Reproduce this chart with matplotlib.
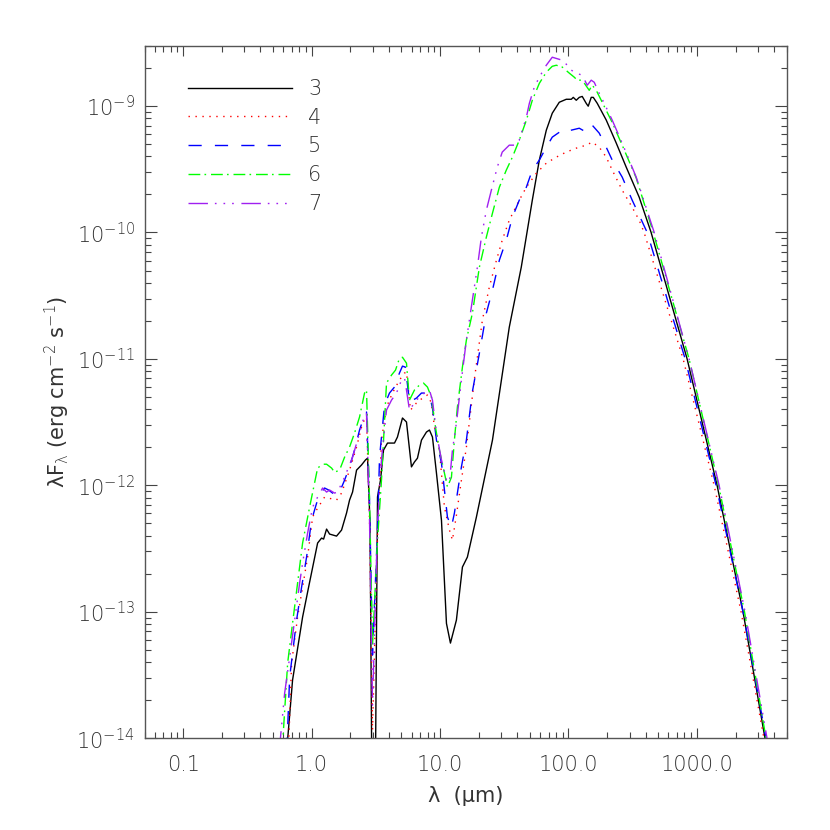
"""
plots the model SEDs (lambda F_lambda against wavelength) for runs 3 to 7
"""

import matplotlib
matplotlib.use("Agg")
import matplotlib.pyplot as plt
from matplotlib.ticker import FixedLocator, LogLocator, NullFormatter


# wavelength in micron, flux in erg cm^-2 s^-1
lam_3 = [0.64, 0.711, 0.851, 0.948, 1.114, 1.196, 1.24, 1.308, 1.38, 1.564, 1.711, 1.871, 1.975,
         2.084, 2.239, 2.448, 2.63, 2.727, 2.85, 2.98, 3.1, 3.26, 3.44, 3.63, 3.9, 4.42, 4.66, 5.1,
         5.48, 5.99, 6.32, 6.67, 7.17, 7.84, 8.27, 8.73, 9.38, 10.26, 11.22, 12.05, 13.41, 14.94,
         16.33, 19.19, 25.6, 34.6, 42.9, 52.3, 59.3, 67.2, 74.8, 84.8, 96.1, 105.2, 109.0, 115.0,
         121.4, 128.0, 137.4, 142.5, 150.4, 156.0, 167.5, 196.8, 235.5, 281.4, 355.3, 440, 839,
         1436, 2287, 3390, 3820]
flux_3 = [8e-15, 2.89e-14, 9.1e-14, 1.57e-13, 3.5e-13, 3.83e-13, 3.76e-13, 4.51e-13, 4.12e-13,
          3.97e-13, 4.43e-13, 6.04e-13, 7.65e-13, 8.85e-13, 1.32e-12, 1.45e-12, 1.59e-12, 1.64e-12,
          5e-13, 1e-15, 1e-15, 8.1e-13, 1.1e-12, 1.9e-12, 2.16e-12, 2.16e-12, 2.41e-12, 3.41e-12,
          3.17e-12, 1.4e-12, 1.53e-12, 1.64e-12, 2.28e-12, 2.64e-12, 2.74e-12, 2.41e-12, 1.25e-12,
          5.3e-13, 8.1e-14, 5.66e-14, 8.6e-14, 2.26e-13, 2.71e-13, 5.61e-13, 2.28e-12, 1.78e-11,
          5.31e-11, 1.8e-10, 3.73e-10, 6.43e-10, 8.77e-10, 1.07e-9, 1.13e-9, 1.13e-9, 1.17e-9,
          1.11e-9, 1.17e-9, 1.19e-9, 1.05e-9, 9.96e-10, 1.17e-9, 1.17e-9, 1.05e-9, 7.74e-10,
          5.09e-10, 3.29e-10, 1.9e-10, 1e-10, 1e-11, 1e-12, 1e-13, 1e-14, 5e-15]

lam_4 = [0.66, 0.699, 0.778, 0.851, 0.931, 1.018, 1.055, 1.262, 1.564, 1.711, 1.975, 2.239, 2.493,
         2.677, 2.825, 2.98, 3.26, 3.5, 3.83, 4.26, 4.83, 5.29, 5.48, 5.89, 6.55, 7.3, 7.98, 8.57,
         9.05, 9.89, 10.82, 11.84, 12.49, 13.41, 14.67, 16.04, 18.51, 21.37, 24.2, 27.5, 30.5,
         34.6, 41.4, 47.0, 56.2, 67.2, 80.4, 96.1, 115.0, 137.4, 153.1, 173.6, 196.8, 219.2, 262,
         313.4, 355.3, 388, 781, 1362, 2208, 3325, 3800]
flux_4 = [8e-15, 3.94e-14, 9.1e-14, 1.57e-13, 2.71e-13, 5.61e-13, 6.04e-13, 8.08e-13, 7.65e-13,
          8.69e-13, 1.32e-12, 2.01e-12, 3.11e-12, 3.47e-12, 5.3e-13, 1.16e-14, 4e-13, 2.28e-12,
          4.16e-12, 5.37e-12, 6.8e-12, 7.73e-12, 7.87e-12, 3.94e-12, 4.48e-12, 4.9e-12, 5.18e-12,
          4.48e-12, 2.89e-12, 1.9e-12, 6.73e-13, 4.43e-13, 3.69e-13, 5.8e-13, 1.1e-12, 2.0e-12,
          6.9e-12, 2.03e-11, 3.7e-11, 6.04e-11, 8.69e-11, 1.25e-10, 1.8e-10, 2.28e-10, 2.94e-10,
          3.53e-10, 3.94e-10, 4.32e-10, 4.64e-10, 4.9e-10, 5.18e-10, 4.72e-10, 3.94e-10, 3.11e-10,
          2.16e-10, 1.58e-10, 1.25e-10, 1e-10, 1e-11, 1e-12, 1e-13, 1e-14, 5e-15]

lam_5 = [0.64, 0.675, 0.764, 0.836, 0.914, 1.0, 1.094, 1.196, 1.262, 1.356, 1.456, 1.564, 1.651,
         1.806, 1.975, 2.159, 2.362, 2.583, 2.677, 2.825, 2.98, 3.26, 3.38, 3.7, 4.04, 4.42, 4.83,
         5.1, 5.38, 5.78, 6.55, 7.17, 7.84, 8.27, 8.73, 9.38, 10.26, 10.82, 11.42, 12.27, 12.94,
         13.65, 14.67, 16.04, 17.86, 20.25, 22.94, 25.6, 28.97, 32.8, 36.6, 41.4, 47.0, 52.3, 59.3,
         67.2, 74.8, 89.5, 97.9, 105.2, 121.4, 137.4, 153.1, 173.6, 196.8, 219.2, 262, 313.4, 410,
         810, 1410, 2287, 3450, 3850]
flux_5 = [8e-15, 3.05e-14, 8.6e-14, 1.57e-13, 2.71e-13, 5.31e-13, 7.24e-13, 8.85e-13, 9.53e-13,
          9.19e-13, 8.69e-13, 8.38e-13, 8.85e-13, 1.1e-12, 1.4e-12, 1.9e-12, 2.74e-12, 3.6e-12,
          3.8e-12, 7.6e-13, 4.55e-14, 4.5e-13, 1.67e-12, 4.32e-12, 5.37e-12, 5.99e-12, 7.73e-12,
          8.77e-12, 8.61e-12, 4.56e-12, 4.9e-12, 5.37e-12, 5.37e-12, 5.18e-12, 4.09e-12, 2.28e-12,
          1.5e-12, 9.19e-13, 5.61e-13, 4.68e-13, 6.04e-13, 8.69e-13, 1.4e-12, 2.28e-12, 5.5e-12,
          1.11e-11, 2.3e-11, 3.5e-11, 6.04e-11, 8.69e-11, 1.32e-10, 1.8e-10, 2.28e-10, 3.11e-10,
          3.73e-10, 4.72e-10, 5.67e-10, 6.44e-10, 6.21e-10, 6.44e-10, 6.67e-10, 6.21e-10, 7.05e-10,
          6.1e-10, 4.72e-10, 3.73e-10, 2.74e-10, 1.8e-10, 1e-10, 1e-11, 1e-12, 1e-13, 1e-14, 5e-15]

lam_6 = [0.59, 0.651, 0.711, 0.778, 0.851, 0.965, 1.114, 1.218, 1.308, 1.431, 1.509, 1.651, 1.806,
         1.975, 2.159, 2.362, 2.583, 2.677, 2.825, 2.98, 3.26, 3.5, 3.83, 4.19, 4.5, 4.83, 5.1,
         5.48, 5.78, 6.32, 6.91, 7.43, 7.98, 8.57, 9.21, 9.89, 10.82, 11.42, 12.27, 12.94, 13.65,
         14.94, 16.04, 17.86, 20.25, 22.94, 25.6, 28.97, 32.8, 36.6, 41.4, 47.0, 52.3, 59.3, 67.2,
         74.8, 80.4, 89.5, 101.4, 110.9, 117.0, 128.0, 145.1, 153.1, 164.5, 179.9, 219.2, 262,
         336.7, 457, 869, 1475, 2348, 3451, 3850]
flux_6 = [8e-15, 3.94e-14, 8.15e-14, 1.69e-13, 3.5e-13, 6.73e-13, 1.37e-12, 1.47e-12, 1.47e-12,
          1.37e-12, 1.27e-12, 1.32e-12, 1.67e-12, 2.01e-12, 2.59e-12, 3.47e-12, 5.37e-12, 5.67e-12,
          7.6e-13, 5.47e-14, 3.69e-13, 1.1e-12, 6.44e-12, 7.45e-12, 8.15e-12, 1.01e-11, 1.03e-11,
          9.26e-12, 4.72e-12, 5.67e-12, 6.21e-12, 6.44e-12, 5.99e-12, 4.99e-12, 2.89e-12, 1.9e-12,
          1.25e-12, 9.7e-13, 1.16e-12, 2.28e-12, 4.16e-12, 8.61e-12, 1.41e-11, 2.3e-11, 5.32e-11,
          9.18e-11, 1.42e-10, 2.28e-10, 3.11e-10, 3.94e-10, 5.37e-10, 7.72e-10, 1.11e-9, 1.51e-9,
          1.85e-9, 2.06e-9, 2.1e-9, 2.03e-9, 1.82e-9, 1.69e-9, 1.6e-9, 1.6e-9, 1.33e-9, 1.46e-9,
          1.33e-9, 1.11e-9, 7.4e-10, 4.9e-10, 2.7e-10, 1e-10, 1e-11, 1e-12, 1e-13, 1e-14, 5e-15]

lam_7 = [0.56, 0.617, 0.675, 0.738, 0.807, 0.851, 0.931, 1.018, 1.114, 1.218, 1.308, 1.38, 1.509,
         1.592, 1.806, 2.084, 2.362, 2.583, 2.677, 2.825, 2.98, 3.26, 3.5, 3.83, 4.19, 4.58, 5.01,
         5.29, 5.48, 5.78, 6.55, 7.17, 7.84, 8.27, 8.73, 9.38, 10.26, 11.22, 11.84, 12.49, 13.41,
         14.67, 16.04, 17.86, 19.54, 20.99, 22.94, 25.1, 27.9, 30.5, 34.6, 37.9, 41.4, 43.7, 47.0,
         49.6, 54.2, 59.3, 67.2, 74.8, 89.5, 97.9, 105.2, 115.0, 128.0, 140.0, 150.4, 158.7, 173.6,
         189.8, 219.2, 262, 336.7, 465, 869, 1489, 2370, 3515, 3900]
flux_7 = [8e-15, 2.28e-14, 4.39e-14, 8.6e-14, 1.69e-13, 2.43e-13, 4.19e-13, 6.73e-13, 8.08e-13,
          9.53e-13, 8.85e-13, 9.19e-13, 8.69e-13, 8.85e-13, 1.16e-12, 1.67e-12, 2.59e-12, 3.6e-12,
          3.73e-12, 5.3e-13, 1.83e-14, 5e-13, 1.6e-12, 3.94e-12, 4.72e-12, 5.37e-12, 6.8e-12,
          7.05e-12, 5.67e-12, 3.94e-12, 4.72e-12, 5.18e-12, 5.47e-12, 5.67e-12, 4.72e-12, 2.59e-12,
          1.59e-12, 1.1e-12, 1.06e-12, 1.9e-12, 3.11e-12, 6.8e-12, 1.41e-11, 2.92e-11, 5.32e-11,
          9.18e-11, 1.5e-10, 2.16e-10, 3.28e-10, 4.32e-10, 4.9e-10, 4.9e-10, 5.37e-10, 6.44e-10,
          8.15e-10, 1.05e-9, 1.41e-9, 1.69e-9, 2.1e-9, 2.43e-9, 2.3e-9, 2.1e-9, 1.92e-9, 1.82e-9,
          1.75e-9, 1.46e-9, 1.6e-9, 1.54e-9, 1.26e-9, 1.05e-9, 7.72e-10, 5.08e-10, 2.74e-10, 1e-10,
          1e-11, 1e-12, 1e-13, 1e-14, 5e-15]

run_names = ['3', '4', '5', '6', '7']
x_ticks = [0.1, 1.0, 10.0, 100.0, 1000.0]
x_tick_labels = ['0.1', '1.0', '10.0', '100.0', '1000.0']
y_ticks = [1e-14, 1e-13, 1e-12, 1e-11, 1e-10, 1e-9]
y_tick_labels = [r'10$^{-14}$', r'10$^{-13}$', r'10$^{-12}$', r'10$^{-11}$', r'10$^{-10}$', r'10$^{-9}$']

# line styles, idl style (solid, dotted, dashed, dash dot, dash dot dot dot)
colours = ['black', '#ff0000', '#0000ff', '#00ff00', '#a020f0']
dash_list = [None, (1.0, 4.0), (9.5, 9.5), (8.5, 3.0, 1.2, 3.5), (14.0, 5.0, 1.2, 5.0, 1.2, 5.0, 1.2, 5.5)]

text_col = '#333333'
plt.rcParams['font.family'] = 'DejaVu Sans'
plt.rcParams['font.weight'] = 'light'
plt.rcParams['font.size'] = 15
plt.rcParams['mathtext.fontset'] = 'custom'
plt.rcParams['mathtext.rm'] = 'DejaVu Sans:light'
plt.rcParams['mathtext.it'] = 'DejaVu Sans:light'
plt.rcParams['mathtext.default'] = 'rm'
plt.rcParams['text.color'] = text_col
plt.rcParams['axes.labelcolor'] = text_col
plt.rcParams['xtick.labelcolor'] = text_col
plt.rcParams['ytick.labelcolor'] = text_col

fig = plt.figure(figsize=(8.3, 8.3), dpi=100)
ax = fig.add_axes([0.1741, 0.1105, 0.7737, 0.8345])

all_lam = [lam_3, lam_4, lam_5, lam_6, lam_7]
all_flux = [flux_3, flux_4, flux_5, flux_6, flux_7]

for lam, flux, name, col, dash in zip(all_lam, all_flux, run_names, colours, dash_list):
    line, = ax.plot(lam, flux, color=col, lw=1.0, label=name)
    if dash is not None:
        line.set_dashes(dash)

ax.set_xscale('log')
ax.set_yscale('log')
ax.set_xlim(0.05, 5000)
ax.set_ylim(1e-14, 3e-9)

# ticks on every side, pointing in
ax.xaxis.set_major_locator(FixedLocator(x_ticks))
ax.set_xticklabels(x_tick_labels)
ax.xaxis.set_minor_locator(LogLocator(base=10, subs=range(2, 10), numticks=20))
ax.xaxis.set_minor_formatter(NullFormatter())
ax.yaxis.set_major_locator(FixedLocator(y_ticks))
ax.set_yticklabels(y_tick_labels)
ax.yaxis.set_minor_locator(LogLocator(base=10, subs=range(2, 10), numticks=20))
ax.yaxis.set_minor_formatter(NullFormatter())

ax.tick_params(axis='both', which='both', direction='in', top=True, right=True, color='#444444', width=0.8)
ax.tick_params(axis='x', which='major', length=7.5, pad=12)
ax.tick_params(axis='x', which='minor', length=4.5)
ax.tick_params(axis='y', which='major', length=8.6, pad=7)
ax.tick_params(axis='y', which='minor', length=4.5)
for sp in ax.spines.values():
    sp.set_color('#555555')
    sp.set_linewidth(1.0)

ax.set_xlabel('λ  (μm)', labelpad=8)
ax.set_ylabel(r'λF$_{λ}$ (erg cm$^{-2}$ s$^{-1}$)', labelpad=3)

leg = ax.legend(loc='upper left', bbox_to_anchor=(0.068, 0.952), frameon=False, fontsize=15,
                handlelength=5.0, handletextpad=0.75, labelspacing=0.42, borderpad=0, borderaxespad=0)

fig.savefig('out.png', dpi=100)
